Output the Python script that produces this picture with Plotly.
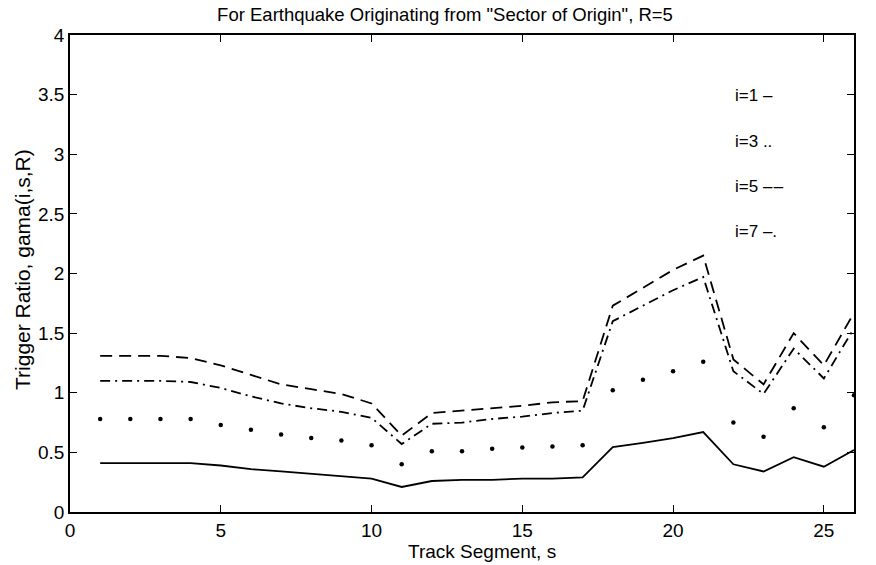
import plotly.graph_objects as go

s = list(range(1, 27))
gamma_i1 = [0.41, 0.41, 0.41, 0.41, 0.39, 0.36, 0.34, 0.32, 0.30, 0.28, 0.21, 0.26, 0.27,
            0.27, 0.28, 0.28, 0.29, 0.545, 0.58, 0.62, 0.67, 0.40, 0.34, 0.46, 0.38, 0.52]
gamma_i3 = [0.78, 0.78, 0.78, 0.78, 0.73, 0.69, 0.65, 0.62, 0.60, 0.56, 0.40, 0.51, 0.51,
            0.53, 0.54, 0.55, 0.56, 1.02, 1.11, 1.18, 1.26, 0.75, 0.63, 0.87, 0.71, 0.98]
gamma_i5 = [1.31, 1.31, 1.31, 1.29, 1.23, 1.15, 1.07, 1.03, 0.99, 0.91, 0.64, 0.83, 0.85,
            0.87, 0.89, 0.92, 0.93, 1.73, 1.88, 2.03, 2.15, 1.28, 1.07, 1.50, 1.23, 1.67]
gamma_i7 = [1.10, 1.10, 1.10, 1.09, 1.04, 0.97, 0.91, 0.87, 0.84, 0.79, 0.57, 0.74, 0.75,
            0.78, 0.80, 0.83, 0.85, 1.60, 1.73, 1.86, 1.97, 1.18, 0.99, 1.37, 1.12, 1.54]

legend_labels = ["i=1 \u2013", "i=3 ..", "i=5 \u2013\u200a\u2013", "i=7 \u2013."]
legend_y = [3.49, 3.11, 2.73, 2.35]

x_ticks = [0, 5, 10, 15, 20, 25]
y_ticks = [0, 0.5, 1, 1.5, 2, 2.5, 3, 3.5, 4]
y_tick_text = ["0", "0.5", "1", "1.5", "2", "2.5", "3", "3.5", "4"]

FONT = "Liberation Sans, Arial, sans-serif"
W, H = 876, 565
ML, MR, MT, MB = 70, 22, 35, 53
PW, PH = W - ML - MR, H - MT - MB


def px_to_paper(px, py):
    return (px - ML) / PW, (H - MB - py) / PH


fig = go.Figure()
fig.add_trace(go.Scatter(x=s, y=gamma_i1, mode="lines",
                         line=dict(color="black", width=1.8, dash="solid")))
fig.add_trace(go.Scatter(x=s, y=gamma_i3, mode="markers",
                         marker=dict(color="black", size=4.5)))
fig.add_trace(go.Scatter(x=s, y=gamma_i5, mode="lines",
                         line=dict(color="black", width=1.8, dash="12px,7px")))
fig.add_trace(go.Scatter(x=s, y=gamma_i7, mode="lines",
                         line=dict(color="black", width=1.8, dash="10px,5px,2px,5px")))

for lab, yy in zip(legend_labels, legend_y):
    fig.add_annotation(x=22.0, y=yy, text=lab, showarrow=False, xanchor="left",
                       yanchor="middle", font=dict(family=FONT, size=17, color="black"))

xt_x, xt_y = px_to_paper(482, 551)
fig.add_annotation(x=xt_x, y=xt_y, xref="paper", yref="paper", text="Track Segment, s",
                   showarrow=False, xanchor="center", yanchor="middle",
                   font=dict(family=FONT, size=19, color="black"))
yt_x, yt_y = px_to_paper(22, 270)
fig.add_annotation(x=yt_x, y=yt_y, xref="paper", yref="paper",
                   text="Trigger Ratio, gama(i,s,R)", textangle=-90,
                   showarrow=False, xanchor="center", yanchor="middle",
                   font=dict(family=FONT, size=21, color="black"))

fig.update_layout(
    width=W, height=H,
    margin=dict(l=ML, r=MR, t=MT, b=MB),
    paper_bgcolor="white", plot_bgcolor="white",
    showlegend=False,
    title=dict(text='For Earthquake Originating from "Sector of Origin", R=5',
               x=0.508, xanchor="center", y=0.975, yanchor="middle",
               font=dict(family=FONT, size=18.5, color="black")),
    font=dict(family=FONT, size=18, color="black"),
)

fig.update_xaxes(range=[0, 26], tickvals=x_ticks, ticks="inside", ticklen=7,
                 tickcolor="black", tickwidth=1, showline=True, linecolor="black",
                 linewidth=1.5, mirror="allticks", showgrid=False, zeroline=False,
                 tickfont=dict(family=FONT, size=19))
fig.update_yaxes(range=[0, 4], tickvals=y_ticks, ticktext=y_tick_text, ticks="inside",
                 ticklen=7, tickcolor="black", tickwidth=1, showline=True,
                 linecolor="black", linewidth=1.5, mirror="allticks", showgrid=False,
                 zeroline=False, tickfont=dict(family=FONT, size=19))

fig.write_html("out.html")
